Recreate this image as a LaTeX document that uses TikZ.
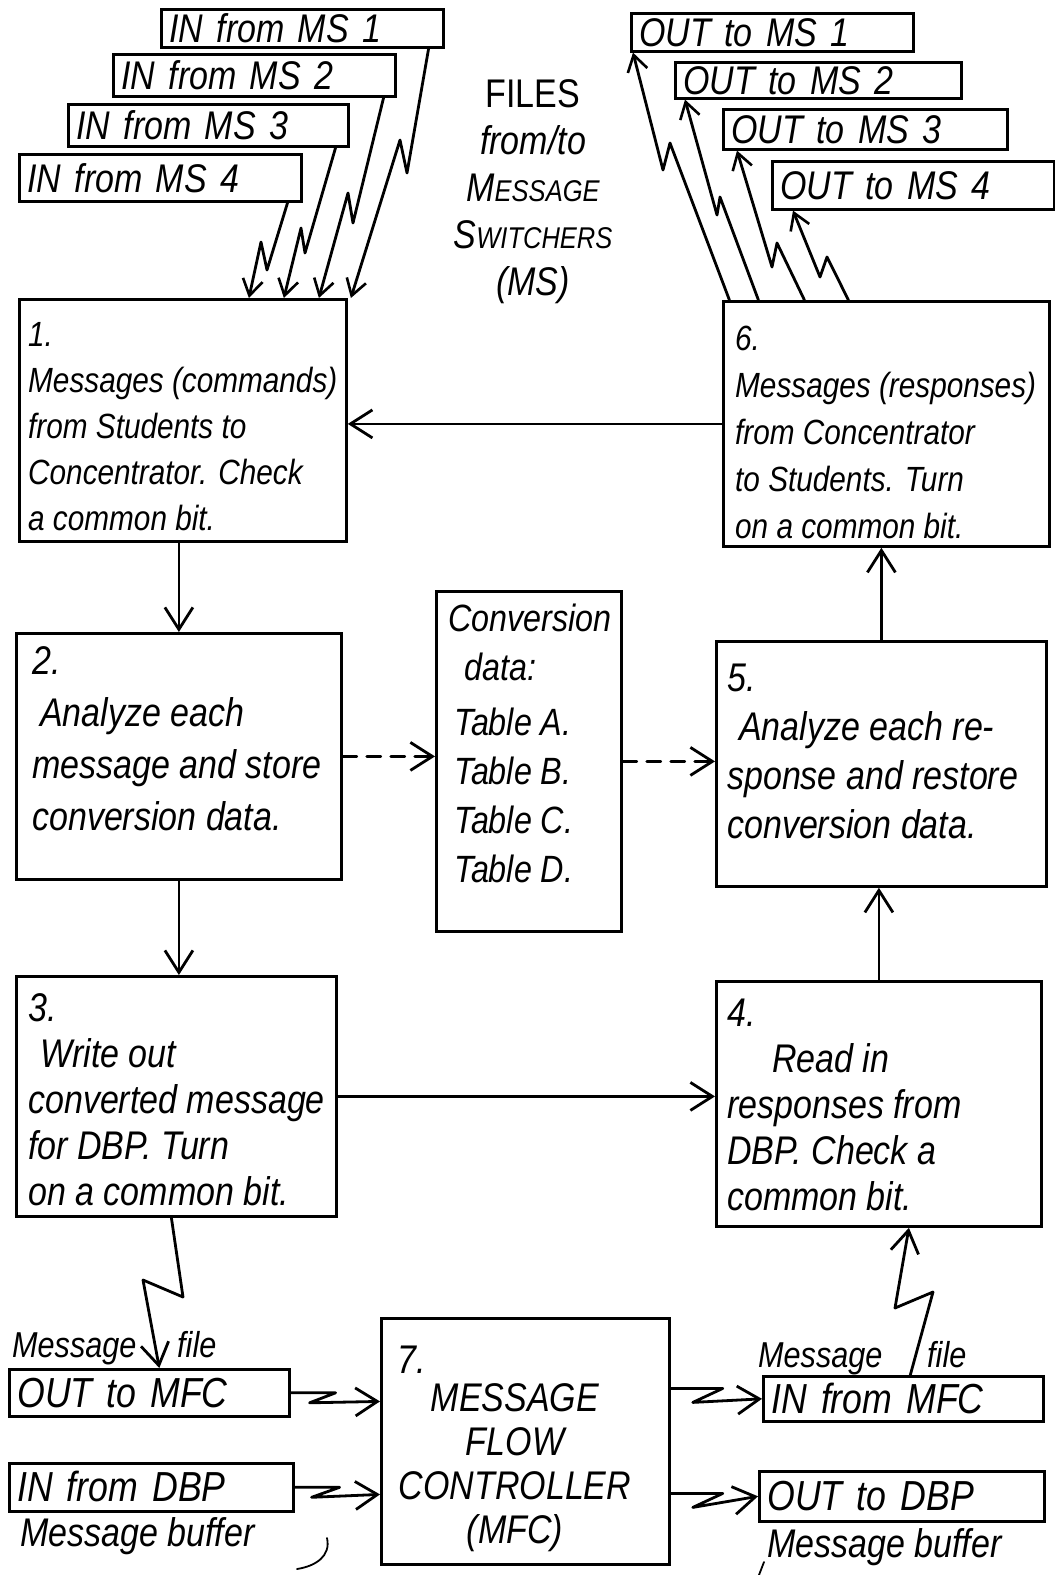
\documentclass[tikz,border=0pt]{standalone}
\usepackage{fontspec}
\usetikzlibrary{arrows.meta}
\newfontfamily\hand[FakeStretch=0.85]{Liberation Sans}

\tikzset{
  ink/.style={line width=2.8pt, line cap=round, line join=round},
  box/.style={draw, line width=2.8pt, anchor=north west, inner sep=0pt},
  sbox/.style={draw, line width=2.6pt, anchor=north west, inner xsep=8pt, inner ysep=0pt,
    align=left, font=\hand\itshape\fontsize{40}{40}\selectfont, text height=31pt, text depth=2pt},
  boxtext/.style 2 args={anchor=base west, inner sep=0pt, align=left,
    font=\hand\itshape\fontsize{#1}{#2}\selectfont},
  lbl/.style={anchor=base west, inner sep=0pt, font=\hand\itshape\fontsize{#1}{#1}\selectfont},
  bigtip/.style={-{Straight Barb[length=22pt,width=28pt,line width=2.8pt]}},
  smalltip/.style={-{Straight Barb[length=16pt,width=20pt,line width=2.6pt]}},
  flow/.style={ink, bigtip},
  dflow/.style={ink, bigtip, dash pattern=on 14pt off 10pt},
  zig/.style={ink, smalltip},
  zag/.style={ink, bigtip},
}

\begin{document}
\begin{tikzpicture}[x=1pt,y=-1pt]
\fill[white] (0,0) rectangle (1055,1575);
\useasboundingbox (0,0) rectangle (1055,1575);

% ---------- file boxes to and from the message switchers ----------
\node[sbox, minimum width=282pt, minimum height=38pt, text width=266pt] (inms1) at (160,8)   {IN from MS 1};
\node[sbox, minimum width=282pt, minimum height=42pt, text width=266pt] (inms2) at (112,53)  {IN from MS 2};
\node[sbox, minimum width=280pt, minimum height=42pt, text width=264pt] (inms3) at (67,103)  {IN from MS 3};
\node[sbox, minimum width=282pt, minimum height=47pt, text width=266pt] (inms4) at (18,153)  {IN from MS 4};

\node[sbox, minimum width=282pt, minimum height=38pt, text width=266pt] (outms1) at (630,12)  {OUT to MS 1};
\node[sbox, minimum width=286pt, minimum height=36pt, text width=270pt] (outms2) at (674,61)  {OUT to MS 2};
\node[sbox, minimum width=284pt, minimum height=40pt, text width=268pt] (outms3) at (722,108) {OUT to MS 3};
\node[sbox, minimum width=282pt, minimum height=48pt, text width=266pt] (outms4) at (771,160) {OUT to MS 4};

% ---------- title ----------
\node[anchor=base, inner sep=0pt, align=center, font=\hand\itshape\fontsize{40}{47}\selectfont] (files) at (533,295)
  {{\upshape FILES}\\from/to\\{\fontsize{40}{47}\selectfont M}{\fontsize{30}{47}\selectfont ESSAGE}\\
   {\fontsize{40}{47}\selectfont S}{\fontsize{30}{47}\selectfont WITCHERS}\\(MS)};

% ---------- processing boxes ----------
\node[box, minimum width=327pt, minimum height=242pt] (b1) at (18,298) {};
\node[boxtext={35}{46}] (t1) at (28,530)
  {1.\\Messages (commands)\\from Students to\\Concentrator. Check\\a common bit.};

\node[box, minimum width=326pt, minimum height=245pt] (b6) at (722,300) {};
\node[boxtext={35}{47}] (t6) at (735,538)
  {6.\\Messages (responses)\\from Concentrator\\to Students. Turn\\on a common bit.};

\node[box, minimum width=325pt, minimum height=246pt] (b2) at (15,632) {};
\node[boxtext={40}{52}] (t2) at (32,830)
  {2.\\\hspace*{8pt}Analyze each\\message and store\\conversion data.};

\node[box, minimum width=185pt, minimum height=340pt] (conv) at (435,590) {};
\node[boxtext={38}{49}] (tc) at (448,882)
  {Conversion\\\hspace*{16pt}data:\\[6pt]\hspace*{6pt}Table A.\\\hspace*{6pt}Table B.\\\hspace*{6pt}Table C.\\\hspace*{6pt}Table D.};

\node[box, minimum width=330pt, minimum height=245pt] (b5) at (715,640) {};
\node[boxtext={40}{49}] (t5) at (727,838)
  {5.\\\hspace*{12pt}Analyze each re-\\sponse and restore\\conversion data.};

\node[box, minimum width=320pt, minimum height=240pt] (b3) at (15,975) {};
\node[boxtext={40}{46}] (t3) at (28,1205)
  {3.\\\hspace*{12pt}Write out\\converted message\\for DBP. Turn\\on a common bit.};

\node[box, minimum width=325pt, minimum height=245pt] (b4) at (715,980) {};
\node[boxtext={40}{46}] (t4) at (727,1210)
  {4.\\\hspace*{45pt}Read in\\responses from\\DBP. Check a\\common bit.};

\node[box, minimum width=288pt, minimum height=246pt] (b7) at (380,1317) {};
\node[lbl=40] (n7) at (397,1373) {7.};
\node[anchor=base, inner sep=0pt, align=center, font=\hand\itshape\fontsize{40}{44}\selectfont] (t7) at (515,1543)
  {MESSAGE\\FLOW\\CONTROLLER\\(MFC)};

% ---------- message files and buffers ----------
\node[sbox, font=\hand\itshape\fontsize{42}{42}\selectfont, minimum width=280pt, minimum height=47pt, text width=264pt] (outmfc) at (8,1368)   {OUT to MFC};
\node[sbox, font=\hand\itshape\fontsize{42}{42}\selectfont, minimum width=284pt, minimum height=48pt, text width=268pt] (indbp)  at (8,1462)   {IN from DBP};
\node[sbox, font=\hand\itshape\fontsize{42}{42}\selectfont, minimum width=280pt, minimum height=45pt, text width=264pt] (inmfc)  at (762,1375) {IN from MFC};
\node[sbox, font=\hand\itshape\fontsize{42}{42}\selectfont, minimum width=285pt, minimum height=50pt, text width=269pt] (outdbp) at (758,1470) {OUT to DBP};

\node[lbl=36] (msgf1) at (12,1357)  {Message};
\node[lbl=36] (file1) at (177,1357) {file};
\node[lbl=36] (msgf2) at (758,1367) {Message};
\node[lbl=36] (file2) at (927,1367) {file};
\node[lbl=40] (buf1) at (20,1546)  {Message buffer};
\node[lbl=40] (buf2) at (767,1557) {Message buffer};

% ---------- main flow ----------
\draw[flow] (b1.south -| b2.north) -- (b2.north);
\draw[flow] (b2.south) -- (b2.south |- b3.north);
\draw[flow] (b3.east) -- (b3.east -| b4.west);
\draw[flow] (b4.north) -- (b4.north |- b5.south);
\draw[flow] (b5.north) -- (b5.north |- b6.south);
\draw[flow] (b6.west) -- (b6.west -| b1.east);
\draw[dflow] (b2.east) -- (b2.east -| conv.west);
\draw[dflow] (conv.east) -- (conv.east -| b5.west);

% ---------- incoming files ----------
\draw[zig] ([xshift=-15pt]inms4.south east) -- (267,270) -- (261,242) -- ([xshift=66pt]b1.north);
\draw[zig] ([xshift=-14pt]inms3.south east) -- (305,253) -- (301,228) -- ([xshift=101pt]b1.north);
\draw[zig] ([xshift=-13pt]inms2.south east) -- (353,223) -- (348,193) -- ([xshift=136pt]b1.north);
\draw[zig] ([xshift=-16pt]inms1.south east) -- (407,173) -- (400,140) -- ([xshift=168pt]b1.north);

% ---------- outgoing files ----------
\draw[zig] ([xshift=-157pt]b6.north) -- (670,143) -- (663,170) -- ([xshift=3pt]outms1.south west);
\draw[zig] ([xshift=-128pt]b6.north) -- (720,197) -- (717,215) -- ([xshift=11pt]outms2.south west);
\draw[zig] ([xshift=-82pt]b6.north)  -- (777,243) -- (772,267) -- ([xshift=15pt]outms3.south west);
\draw[zig] ([xshift=-38pt]b6.north)  -- (827,257) -- (820,277) -- ([xshift=22pt]outms4.south west);

% ---------- links through the message flow controller ----------
\draw[zag] ([xshift=-5pt]b3.south) -- (183,1297) -- (143,1280) -- ([xshift=10pt]outmfc.north);
\draw[zag] ([xshift=7pt]inmfc.north) -- (933,1292) -- (895,1308) -- ([xshift=30pt]b4.south);
\draw[zag] (outmfc.east) -- ++(45,0) -- ++(-26,10) -- ([yshift=40pt]b7.west);
\draw[zag] (indbp.east) -- ++(45,0) -- ++(-28,10) -- ([yshift=-53pt]b7.west);
\draw[zag] ([yshift=53pt]b7.east) -- ++(52,0) -- ++(-30,14) -- (inmfc.west);
\draw[zag] ([yshift=-52pt]b7.east) -- ++(52,0) -- ++(-30,14) -- (outdbp.west);

% ---------- brackets under the buffer labels ----------
\draw[ink, line width=1.8pt] (327,1538) .. controls (331,1556) and (316,1566) .. (297,1569);
\draw[ink, line width=1.8pt] (764,1562) -- (759,1575);
\end{tikzpicture}
\end{document}
